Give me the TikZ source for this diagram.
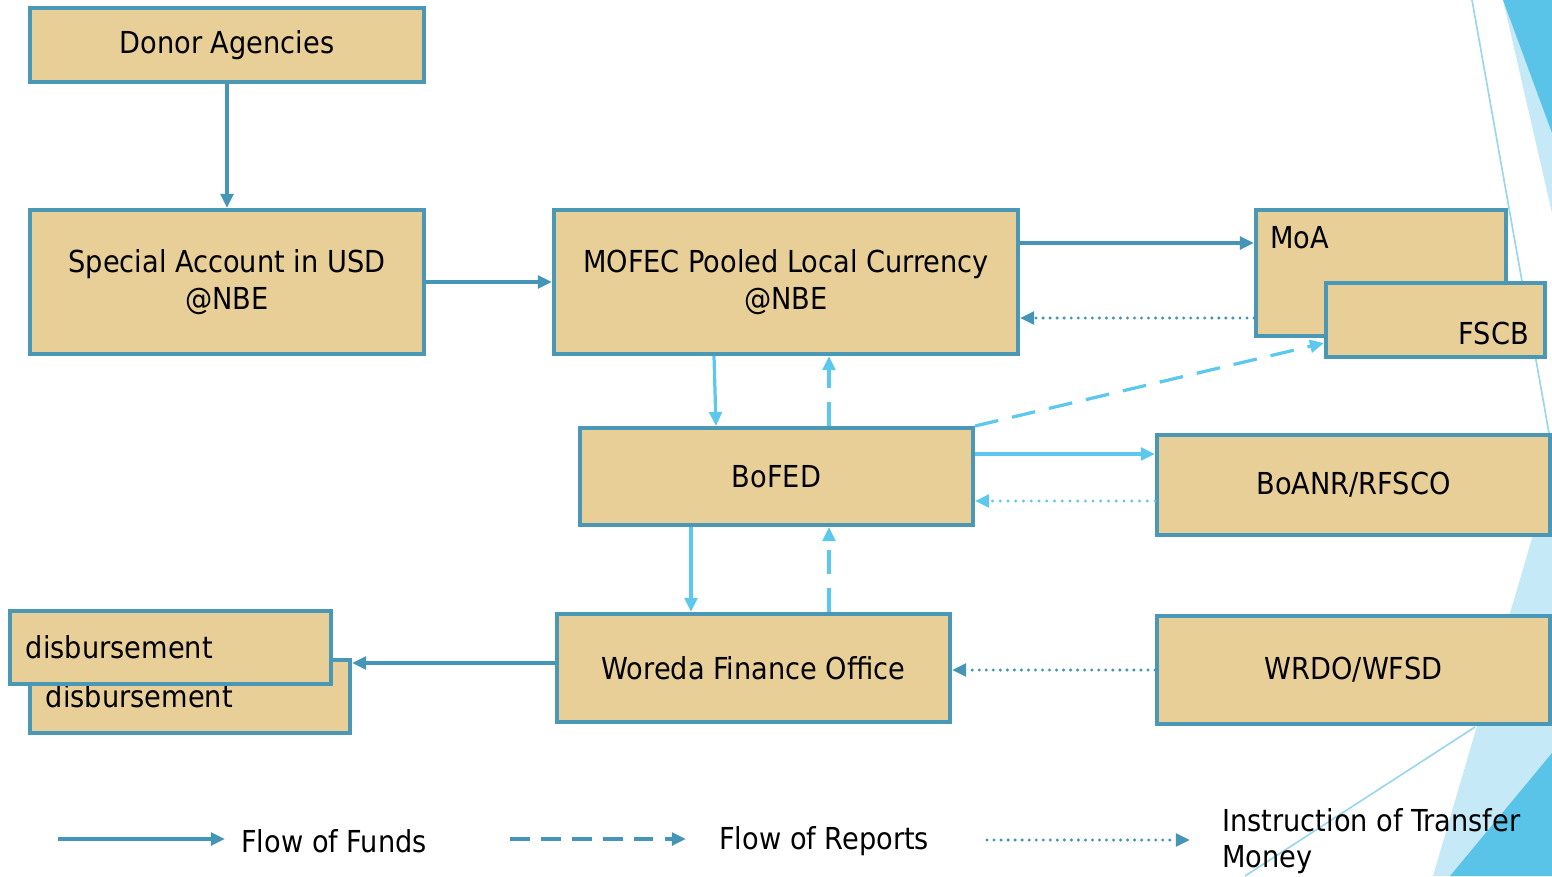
\documentclass[tikz,border=0pt]{standalone}
\usepackage{fontspec}
\setmainfont{DejaVu Sans Condensed}
\usetikzlibrary{arrows.meta}

\definecolor{papyrus}{HTML}{E8CF98}
\definecolor{boxline}{HTML}{4A98B5}
\definecolor{funddark}{HTML}{4596B6}
\definecolor{fundlight}{HTML}{5CC8EE}
\definecolor{skydark}{HTML}{5AC3E8}
\definecolor{skylight}{HTML}{C5E9F7}
\definecolor{skyline}{HTML}{9CD6EC}

\tikzset{
	acct/.style={draw=boxline, line width=2.8pt, fill=papyrus, inner sep=0pt, align=center, font=\fontsize{21.5}{26.3}\selectfont},
	legend/.style={inner sep=0pt, align=left, font=\fontsize{21.5}{26}\selectfont},
	tip/.style={-{Triangle[length=10pt,width=9pt]}},
	fund/.style={tip, line width=2.6pt, draw=funddark},
	fundl/.style={tip, line width=2.3pt, draw=fundlight},
	report/.style={tip, line width=2.8pt, draw=funddark, dash pattern=on 14pt off 8pt},
	reportl/.style={tip, line width=2.3pt, draw=fundlight, dash pattern=on 17pt off 10pt},
	order/.style={tip, line width=2.4pt, draw=funddark, line cap=round, dash pattern=on 0pt off 5pt},
	orderl/.style={tip, line width=2.3pt, draw=fundlight, line cap=round, dash pattern=on 0pt off 5.5pt},
}

\begin{document}
\begin{tikzpicture}[x=0.025cm, y=-0.025cm]
		\useasboundingbox (0,0) rectangle (1552,876);
		\fill[skylight] (1503,0) -- (1552,213) -- (1552,0) -- cycle;
		\fill[skydark] (1503,0) -- (1552,133) -- (1552,0) -- cycle;
		\draw[skyline, line width=1.2pt] (1472,0) -- (1552,450);
		\fill[skylight] (1552,470) -- (1433,876) -- (1552,876) -- cycle;
		\fill[skydark] (1552,753) -- (1450,876) -- (1552,876) -- cycle;
		\draw[skyline, line width=1.2pt] (1475,727) -- (1245,876);

		\node[acct, minimum width=9.85cm, minimum height=1.85cm] (donor) at (227,45) {Donor Agencies};
		\node[acct, minimum width=9.85cm, minimum height=3.6cm] (special) at (227,282) {Special Account in USD\\@NBE};
		\node[acct, minimum width=11.6cm, minimum height=3.6cm] (mofec) at (786,282) {MOFEC Pooled Local Currency\\@NBE};
		\node[acct, minimum width=6.25cm, minimum height=3.15cm, label={[anchor=north west, inner sep=0pt, xshift=0.4cm, yshift=-0.45cm, font=\fontsize{21.5}{26}\selectfont]north west:MoA}] (moa) at (1381,273) {};
		\node[acct, minimum width=5.475cm, minimum height=1.85cm, label={[anchor=base east, inner sep=0pt, xshift=-0.45cm, yshift=0.35cm, font=\fontsize{21.5}{26}\selectfont]south east:FSCB}] (fscb) at (1435.5,320) {};
		\node[acct, minimum width=9.825cm, minimum height=2.425cm] (bofed) at (776.5,476.5) {BoFED};
		\node[acct, minimum width=9.825cm, minimum height=2.5cm] (boanr) at (1353.5,485) {BoANR/RFSCO};
		\node[acct, text width=7.2cm, inner xsep=0.4cm, align=left, minimum height=1.825cm] (disbback) at (190,696.5) {disbursement};
		\node[acct, text width=7.225cm, inner xsep=0.4cm, align=left, minimum height=1.825cm] (disbfront) at (170.5,647.5) {disbursement};
		\node[acct, minimum width=9.825cm, minimum height=2.7cm] (woreda) at (753.5,668) {Woreda Finance Office};
		\node[acct, minimum width=9.825cm, minimum height=2.7cm] (wrdo) at (1353.5,670) {WRDO/WFSD};

		\draw[fund] (donor) -- (special);
		\draw[fund] (special) -- (mofec);
		\draw[fund] (mofec.east |- 0,243) -- (moa.west |- 0,243);
		\draw[order] (moa.west |- 0,318) -- (mofec.east |- 0,318);
		\draw[fundl] (mofec.south -| 714,0) -- (bofed.north -| 716,0);
		\draw[reportl] (bofed.north -| 829,0) -- (mofec.south -| 829,0);
		\draw[reportl] (bofed.north east) -- (fscb.west |- 0,343);
		\draw[fundl] (bofed.east |- 0,454) -- (boanr.west |- 0,454);
		\draw[orderl] (boanr.west |- 0,501) -- (bofed.east |- 0,501);
		\draw[fundl] (bofed.south -| 691,0) -- (woreda.north -| 691,0);
		\draw[reportl] (woreda.north -| 829,0) -- (bofed.south -| 829,0);
		\draw[fund] (woreda.west |- 0,663) -- (disbback.east |- 0,663);
		\draw[order] (wrdo.west |- 0,670) -- (woreda.east |- 0,670);

		\coordinate (fundA) at (58,839);
		\coordinate (fundB) at (225,839);
		\draw[fund] (fundA) -- (fundB);
		\node[legend, anchor=west] (fundtxt) at (241,841) {Flow of Funds};
		\coordinate (reportA) at (510,839);
		\coordinate (reportB) at (686,839);
		\draw[report] (reportA) -- (reportB);
		\node[legend, anchor=west] (reporttxt) at (719,841) {Flow of Reports};
		\coordinate (orderA) at (987,840);
		\coordinate (orderB) at (1190,840);
		\draw[order] (orderA) -- (orderB);
		\node[legend, anchor=west] (ordertxt) at (1222,841) {Instruction of Transfer\\Money};
	\end{tikzpicture}
\end{document}
